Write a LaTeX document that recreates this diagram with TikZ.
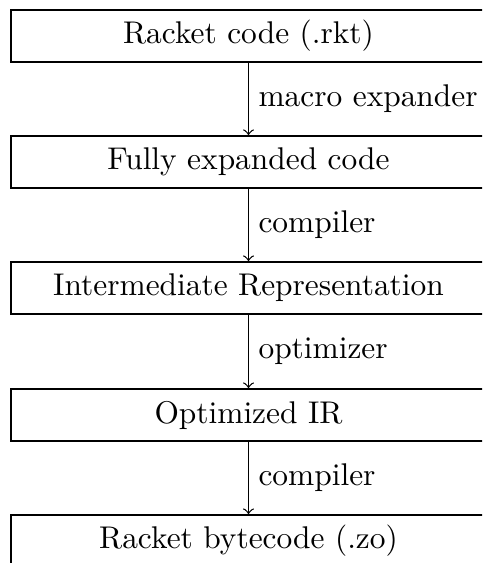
\documentclass[tikz,border=0pt]{standalone}
\begin{document}
\begin{tikzpicture}[x=0.3185pt,y=-0.3185pt,
  box/.style={draw, minimum width=151.3pt, minimum height=16.6pt, inner sep=0pt, line width=0.5pt},
  flow/.style={->, line width=0.4pt},
  lbl/.style={anchor=west, inner sep=3pt}]
\useasboundingbox (0,0) rectangle (482,563);
\clip (0,0) rectangle (482,563);
\node[box] (b1) at (248.5,36) {Racket code (.rkt)};
\node[box] (b2) at (248.5,162) {Fully expanded code};
\node[box] (b3) at (248.5,288) {Intermediate Representation};
\node[box] (b4) at (248.5,415) {Optimized IR};
\node[box] (b5) at (248.5,541) {Racket bytecode (.zo)};
\draw[flow] (b1) -- (b2) node[midway, lbl] {macro expander};
\draw[flow] (b2) -- (b3) node[midway, lbl] {compiler};
\draw[flow] (b3) -- (b4) node[midway, lbl] {optimizer};
\draw[flow] (b4) -- (b5) node[midway, lbl] {compiler};
\end{tikzpicture}
\end{document}
